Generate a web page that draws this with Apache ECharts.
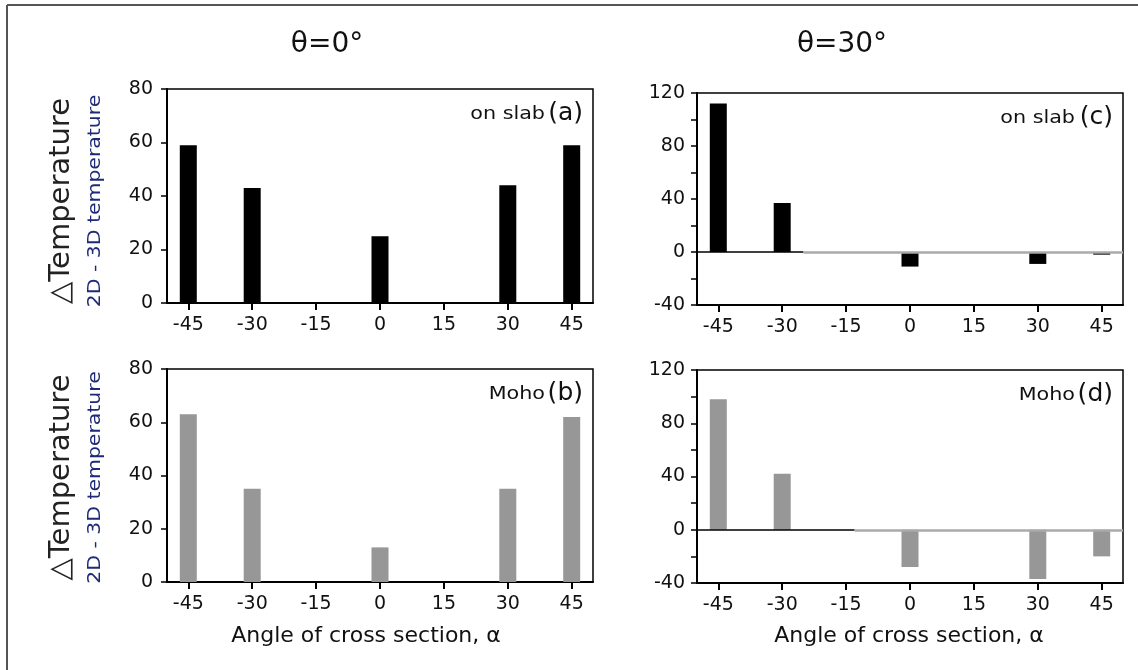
<!DOCTYPE html>
<html><head><meta charset="utf-8">
<script src="https://cdn.jsdelivr.net/npm/echarts@6/dist/echarts.min.js"></script>
<style>html,body{margin:0;padding:0;background:#fff}#c{width:1138px;height:670px}</style>
</head><body><div id="c"></div>
<script>
const angles = [-45, -30, -15, 0, 15, 30, 45];
const xTickLabels = [-45, -30, -15, 0, 15, 30, 45];
const slabTheta0 = [59, 43, 0, 25, 0, 44, 59];
const mohoTheta0 = [63, 35, 0, 13, 0, 35, 62];
const slabTheta30 = [112, 37, 0, -11, 0, -9, -2];
const mohoTheta30 = [98, 42, 0, -28, 0, -37, -20];
const columnTitles = ['θ=0°', 'θ=30°'];
const panelTags = [['on slab', '(a)'], ['Moho', '(b)'], ['on slab', '(c)'], ['Moho', '(d)']];
const xTitle = 'Angle of cross section, α';
const yTitle1 = '△Temperature';
const yTitle2 = '2D - 3D temperature';

const FONT = 'DejaVu Sans';
const TXT = '#111';
const grids = [
  {left: 167, width: 426, top: 89, height: 214},
  {left: 167, width: 426, top: 369, height: 213},
  {left: 697, width: 426, top: 93, height: 212},
  {left: 697, width: 426, top: 370, height: 213}
];
const panelData = [slabTheta0, mohoTheta0, slabTheta30, mohoTheta30];
const colors = ['#000', '#979797', '#000', '#979797'];

const chart = echarts.init(document.getElementById('c'), null, {renderer: 'canvas'});

const xAxes = grids.map((g, i) => ({
  type: 'value', gridIndex: i, min: -50, max: 50,
  axisLine: {onZero: false, lineStyle: {color: '#000', width: 2}},
  axisTick: {show: true, inside: false, length: 7, customValues: xTickLabels, lineStyle: {color: '#000', width: 2}},
  axisLabel: {customValues: xTickLabels, fontSize: 19, fontFamily: FONT, color: TXT, margin: 13},
  splitLine: {show: false}
}));

const yAxes = grids.map((g, i) => {
  const wide = i >= 2;
  return {
    type: 'value', gridIndex: i,
    min: wide ? -40 : 0, max: wide ? 120 : 80, interval: 20,
    axisLine: {show: true, onZero: false, lineStyle: {color: '#000', width: 2}},
    axisTick: {show: true, inside: false, length: 6, lineStyle: {color: '#000', width: 1.5}},
    axisLabel: {fontSize: 19, fontFamily: FONT, color: TXT, margin: wide ? 12 : 14,
      formatter: v => (wide ? (v % 40 === 0 ? String(v) : '') : String(v))},
    splitLine: {show: false}
  };
});

const series = panelData.map((vals, i) => {
  const s = {
    type: 'bar', xAxisIndex: i, yAxisIndex: i,
    data: angles.map((a, k) => [a, vals[k]]),
    barWidth: 17,
    itemStyle: {color: colors[i]},
    silent: true,
    animation: false
  };
  if (i >= 2) {
    const cut = i === 2 ? -25 : -13;
    s.markLine = {
      silent: true, symbol: 'none', animation: false,
      label: {show: false},
      data: [
        [{coord: [-50, 0], lineStyle: {color: '#000', width: 1.5, type: 'solid'}}, {coord: [cut, 0]}],
        [{coord: [cut, 0], lineStyle: {color: '#aaa', width: 2.5, type: 'solid'}}, {coord: [50, 0]}]
      ]
    };
  }
  return s;
});

const graphic = [
  {type: 'line', shape: {x1: 7, y1: 5, x2: 1138, y2: 5}, style: {stroke: '#555', lineWidth: 2}, silent: true},
  {type: 'line', shape: {x1: 7, y1: 5, x2: 7, y2: 670}, style: {stroke: '#555', lineWidth: 2}, silent: true},
  {type: 'text', x: 327, y: 45, style: {text: columnTitles[0], font: '28px "DejaVu Sans"', fill: TXT, textAlign: 'center', textVerticalAlign: 'middle'}},
  {type: 'text', x: 842, y: 45, style: {text: columnTitles[1], font: '28px "DejaVu Sans"', fill: TXT, textAlign: 'center', textVerticalAlign: 'middle'}},
  {type: 'text', x: 366, y: 636, style: {text: xTitle, font: '22px "DejaVu Sans"', fill: TXT, textAlign: 'center', textVerticalAlign: 'middle'}},
  {type: 'text', x: 909, y: 636, style: {text: xTitle, font: '22px "DejaVu Sans"', fill: TXT, textAlign: 'center', textVerticalAlign: 'middle'}}
];
[0, 1].forEach(i => {
  const g = grids[i];
  const cy = g.top + g.height / 2 + (i === 0 ? 5 : 2);
  graphic.push({type: 'text', x: 61, y: cy, rotation: Math.PI / 2,
    style: {text: yTitle1, font: '29px "DejaVu Sans"', fill: '#222', textAlign: 'center', textVerticalAlign: 'middle'}});
  graphic.push({type: 'text', x: 96, y: cy, rotation: Math.PI / 2, scaleX: 1.2,
    style: {text: yTitle2, font: '17px "DejaVu Sans"', fill: '#1e2a78', textAlign: 'center', textVerticalAlign: 'middle'}});
});
grids.forEach((g, i) => {
  const rx = g.left + g.width - 10;
  const cy = g.top + 24;
  graphic.push({type: 'text', x: rx, y: cy,
    style: {text: panelTags[i][1], font: '25px "DejaVu Sans"', fill: '#111', textAlign: 'right', textVerticalAlign: 'middle'}});
  graphic.push({type: 'text', x: rx - 38, y: cy + 1, scaleX: 1.15,
    style: {text: panelTags[i][0], font: '18px "DejaVu Sans"', fill: '#111', textAlign: 'right', textVerticalAlign: 'middle'}});
});

chart.setOption({
  backgroundColor: '#fff',
  animation: false,
  grid: grids.map(g => Object.assign({show: true, borderColor: '#000', borderWidth: 1.5, backgroundColor: 'transparent', outerBoundsMode: 'none', containLabel: false}, g)),
  xAxis: xAxes,
  yAxis: yAxes,
  series: series,
  graphic: graphic
});
</script></body></html>
